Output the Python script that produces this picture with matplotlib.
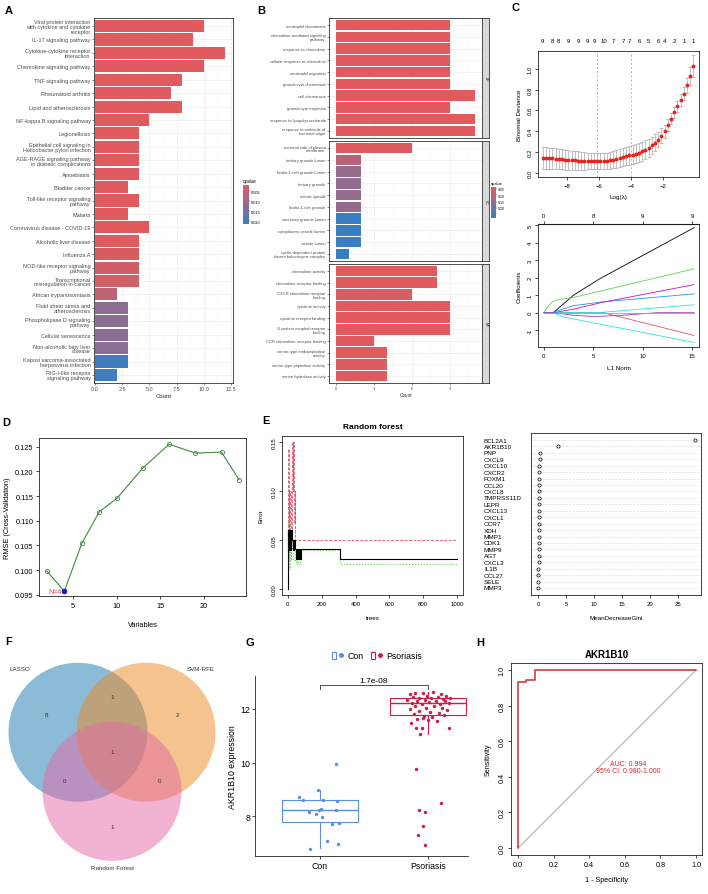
import numpy as np
import matplotlib.pyplot as plt
import matplotlib.transforms as mtrans
from matplotlib.colors import LinearSegmentedColormap, Normalize
from matplotlib.cm import ScalarMappable
from matplotlib.patches import Circle, Rectangle
from matplotlib.lines import Line2D
from matplotlib.legend_handler import HandlerTuple

plt.rcParams['font.family'] = ['Liberation Sans', 'DejaVu Sans']

# ---------------- A: KEGG enrichment ----------------
kegg_terms = ['Viral protein interaction\nwith cytokine and cytokine\nreceptor', 'IL-17 signaling pathway',
              'Cytokine-cytokine receptor\ninteraction', 'Chemokine signaling pathway', 'TNF signaling pathway',
              'Rheumatoid arthritis', 'Lipid and atherosclerosis', 'NF-kappa B signaling pathway',
              'Legionellosis', 'Epithelial cell signaling in\nHelicobacter pylori infection',
              'AGE-RAGE signaling pathway\nin diabetic complications', 'Amoebiasis', 'Bladder cancer',
              'Toll-like receptor signaling\npathway', 'Malaria', 'Coronavirus disease - COVID-19',
              'Alcoholic liver disease', 'Influenza A', 'NOD-like receptor signaling\npathway',
              'Transcriptional\nmisregulation in cancer', 'African trypanosomiasis',
              'Fluid shear stress and\natherosclerosis', 'Phospholipase D signaling\npathway',
              'Cellular senescence', 'Non-alcoholic fatty liver\ndisease',
              'Kaposi sarcoma-associated\nherpesvirus infection', 'RIG-I-like receptor\nsignaling pathway']
kegg_count = [10, 9, 12, 10, 8, 7, 8, 5, 4, 4, 4, 4, 3, 4, 3, 5, 4, 4, 4, 4, 2, 3, 3, 3, 3, 3, 2]
kegg_q = [0.002] * 16 + [0.0025, 0.003, 0.004, 0.004, 0.006, 0.012, 0.012, 0.012, 0.012, 0.021, 0.021]

# ---------------- B: GO enrichment ----------------
go_bp = ['neutrophil chemotaxis', 'chemokine-mediated signaling\npathway', 'response to chemokine',
         'cellular response to chemokine', 'neutrophil migration', 'granulocyte chemotaxis', 'cell chemotaxis',
         'granulocyte migration', 'response to lipopolysaccharide', 'response to molecule of\nbacterial origin']
go_bp_count = [9, 9, 9, 9, 9, 9, 11, 9, 11, 11]
go_bp_q = [0.035] * 10
go_cc = ['external side of plasma\nmembrane', 'tertiary granule lumen', 'ficolin-1-rich granule lumen',
         'tertiary granule', 'mitotic spindle', 'ficolin-1-rich granule', 'secretory granule lumen',
         'cytoplasmic vesicle lumen', 'vesicle lumen', 'cyclin-dependent protein\nkinase holoenzyme complex']
go_cc_count = [6, 2, 2, 2, 2, 2, 2, 2, 2, 1]
go_cc_q = [0.04, 0.10, 0.15, 0.15, 0.15, 0.15, 0.28, 0.28, 0.28, 0.28]
go_mf = ['chemokine activity', 'chemokine receptor binding', 'CXCR chemokine receptor\nbinding',
         'cytokine activity', 'cytokine receptor binding', 'G protein-coupled receptor\nbinding',
         'CCR chemokine receptor binding', 'serine-type endopeptidase\nactivity', 'serine-type peptidase activity',
         'serine hydrolase activity']
go_mf_count = [8, 8, 6, 9, 9, 9, 3, 4, 4, 4]
go_mf_q = [0.035, 0.035, 0.05, 0.035, 0.035, 0.035, 0.04, 0.04, 0.04, 0.04]
go_ont = ['BP', 'CC', 'MF']

# ---------------- C: LASSO ----------------
log_lambda = [-9.5, -9.3, -9.1, -8.9, -8.7, -8.5, -8.3, -8.1, -7.9, -7.7, -7.5, -7.3, -7.1, -6.9, -6.7, -6.5,
              -6.3, -6.1, -5.9, -5.7, -5.5, -5.3, -5.1, -4.9, -4.7, -4.5, -4.3, -4.1, -3.9, -3.7, -3.5, -3.3,
              -3.1, -2.9, -2.7, -2.5, -2.3, -2.1, -1.9, -1.7, -1.5, -1.3, -1.1, -0.9, -0.7, -0.5, -0.3, -0.1]
cv_dev = [0.140, 0.140, 0.139, 0.138, 0.136, 0.133, 0.130, 0.127, 0.124, 0.122, 0.120, 0.118, 0.116, 0.115,
          0.114, 0.113, 0.112, 0.112, 0.112, 0.113, 0.115, 0.119, 0.125, 0.133, 0.142, 0.152, 0.160, 0.167,
          0.174, 0.183, 0.194, 0.207, 0.223, 0.242, 0.264, 0.290, 0.320, 0.356, 0.400, 0.455, 0.520, 0.580,
          0.640, 0.700, 0.760, 0.840, 0.930, 1.030]
cv_sd = [0.105, 0.105, 0.104, 0.103, 0.101, 0.099, 0.097, 0.095, 0.093, 0.091, 0.089, 0.087, 0.085, 0.083,
         0.081, 0.079, 0.077, 0.076, 0.075, 0.075, 0.076, 0.078, 0.080, 0.082, 0.084, 0.086, 0.088, 0.089,
         0.090, 0.090, 0.090, 0.089, 0.088, 0.086, 0.083, 0.080, 0.076, 0.070, 0.064, 0.058, 0.052, 0.050,
         0.052, 0.056, 0.062, 0.072, 0.085, 0.105]
lambda_min, lambda_1se = -6.1, -4.0
nz_pos = [-9.5, -8.9, -8.5, -7.9, -7.3, -6.7, -6.3, -5.7, -5.1, -4.5, -4.1, -3.5, -2.9, -2.3, -1.9, -1.3, -0.7, -0.1]
nz_lab = ['9', '8', '8', '9', '9', '9', '9', '10', '7', '7', '7', '6', '5', '6', '4', '2', '1', '1']

path_l1 = [[0, 0.95, 3.0, 5.7, 15.2],
           [0, 6.0, 15.2],
           [0, 0.4, 0.8, 1.5, 3.0, 15.2],
           [0, 0.8, 3.0, 6.0, 15.2],
           [0, 0.9, 2.0, 15.2],
           [0, 1.0, 3.0, 6.0, 15.2],
           [0, 5.5, 15.2],
           [0, 1.0, 3.0, 5.0, 8.0, 11.5, 15.2],
           [0, 15.2]]
path_coef = [[0, 0, 1.0, 1.95, 4.85],
             [0, 0, -1.3],
             [0, 0.35, 0.6, 0.75, 0.87, 2.5],
             [0, 0, 0.4, 0.62, 1.07],
             [0, 0, -0.25, -1.7],
             [0, 0, 0.2, 0.6, 1.6],
             [0, 0, 0.45],
             [0, 0, -0.15, -0.22, -0.15, 0, 0],
             [0, 0]]
path_col = ['#000000', '#DF536B', '#61D04F', '#2297E6', '#28E2E5', '#CD0BBC', '#28E2E5', '#9B3FA8', '#61D04F']
l1_top_pos = [0, 5, 10, 15]
l1_top_lab = ['0', '8', '9', '9']

# ---------------- D: SVM-RFE ----------------
n_vars = [2, 4, 6, 8, 10, 13, 16, 19, 22, 24]
rmse = [0.0998, 0.0957, 0.1054, 0.1118, 0.1145, 0.1207, 0.1255, 0.1237, 0.1239, 0.1183]
best_n = 4

# ---------------- E: random forest ----------------
oob_trees = [1, 2, 3, 5, 7, 9, 12, 15, 18, 21, 25, 30, 35, 40, 45, 55, 60, 65, 70, 75, 305, 1000]
oob_err = [0.0, 0.06, 0.04, 0.06, 0.05, 0.06, 0.04, 0.05, 0.04, 0.06, 0.05, 0.04, 0.05, 0.041, 0.031, 0.041,
           0.031, 0.041, 0.031, 0.041, 0.031, 0.031]
con_trees = [1, 2, 3, 4, 5, 6, 8, 12, 16, 20, 24, 26, 28, 30, 34, 38, 40, 44, 1000]
con_err = [0.0, 0.05, 0.143, 0.05, 0.10, 0.10, 0.05, 0.10, 0.05, 0.05, 0.10, 0.15, 0.10, 0.15, 0.10, 0.067,
           0.10, 0.05, 0.05]
pso_trees = [1, 2, 4, 6, 9, 12, 16, 20, 25, 30, 40, 45, 55, 60, 70, 75, 305, 1000]
pso_err = [0.0, 0.07, 0.03, 0.05, 0.02, 0.04, 0.03, 0.06, 0.04, 0.03, 0.0395, 0.026, 0.0395, 0.026, 0.0395,
           0.0395, 0.026, 0.026]
gini_genes = ['BCL2A1', 'AKR1B10', 'PNP', 'CXCL9', 'CXCL10', 'CXCR2', 'FOXM1', 'CCL20', 'CXCL8', 'TMPRSS11D',
              'LEPR', 'CXCL13', 'CXCL1', 'CCR7', 'XDH', 'MMP1', 'CDK1', 'MMP9', 'AGT', 'CXCL3', 'IL1B', 'CCL27',
              'SELE', 'MMP3']
gini = [28.1, 3.6, 0.30, 0.28, 0.26, 0.24, 0.22, 0.21, 0.20, 0.19, 0.18, 0.17, 0.16, 0.15, 0.14, 0.13, 0.12,
        0.11, 0.10, 0.09, 0.08, 0.07, 0.06, 0.05]

# ---------------- F: Venn ----------------
venn_sets = ['LASSO', 'SVM-RFE', 'Random Forest']
venn_counts = {'100': 8, '010': 2, '001': 1, '110': 1, '101': 0, '011': 0, '111': 1}

# ---------------- G: expression ----------------
groups = ['Con', 'Psoriasis']
con_x = [1.15, 0.98, 0.81, 0.84, 1.03, 1.16, 1.01, 0.99, 0.90, 1.15, 0.96, 1.02, 1.11, 1.18, 1.07, 1.17, 0.91]
con_y = [9.94, 8.96, 8.73, 8.59, 8.60, 8.56, 8.26, 8.22, 8.16, 8.22, 8.10, 7.97, 7.70, 7.75, 7.09, 6.98, 6.78]
pso_x = [1.83, 1.88, 1.95, 2.05, 2.12, 2.17, 1.86, 1.92, 1.99, 2.03, 2.09, 2.14, 2.20, 1.81, 1.90, 1.97, 2.07,
         2.16, 1.85, 1.94, 2.01, 2.11, 2.19, 1.88, 1.98, 2.06, 2.13, 1.83, 1.92, 2.02, 2.10, 2.18, 1.87, 1.96,
         2.04, 2.15, 1.90, 2.00, 2.08, 1.95, 1.84, 1.89, 1.94, 1.93, 2.19, 1.89, 2.12, 1.92, 1.97, 1.95, 1.91,
         1.97]
pso_y = [12.55, 12.60, 12.58, 12.62, 12.57, 12.50, 12.45, 12.42, 12.48, 12.40, 12.45, 12.38, 12.42, 12.35,
         12.30, 12.33, 12.28, 12.31, 12.22, 12.20, 12.25, 12.18, 12.24, 12.10, 12.05, 12.12, 12.02, 12.00,
         11.93, 11.90, 11.85, 11.95, 11.80, 11.75, 11.70, 11.78, 11.62, 11.60, 11.55, 11.65, 11.46, 11.30,
         11.30, 11.06, 11.28, 9.75, 8.50, 8.24, 8.15, 7.64, 7.28, 6.92]
box_med = [8.22, 12.22]
box_q1 = [7.78, 11.78]
box_q3 = [8.60, 12.40]
box_lo = [6.80, 11.06]
box_hi = [8.97, 12.63]
p_label = '1.7e-08'

# ---------------- H: ROC ----------------
roc_fpr = [0.0, 0.0, 0.047, 0.047, 0.097, 0.097, 1.0]
roc_tpr = [0.0, 0.933, 0.933, 0.944, 0.944, 1.0, 1.0]
auc_txt = 'AUC: 0.994\n95% CI: 0.980-1.000'

# ================= figure =================
W, H = 708, 895
fig = plt.figure(figsize=(W / 100, H / 100), dpi=100)


def box(l, t, r, b):
    # axes from pixel box (left, top, right, bottom)
    return fig.add_axes([l / W, 1 - b / H, (r - l) / W, (b - t) / H])


def letter(x, y, s):
    fig.text(x / W, 1 - y / H, s, fontsize=8, fontweight='bold', ha='center', va='center')


def gg_style(ax, fs):
    for s in ax.spines.values():
        s.set_color('#333333')
        s.set_linewidth(0.6)
    ax.tick_params(which='major', length=1.5, width=0.4, color='#333333', labelcolor='#4D4D4D',
                   labelsize=fs, pad=1)
    ax.tick_params(which='minor', length=0)
    ax.grid(True, which='major', color='#EBEBEB', lw=0.5)
    ax.grid(True, which='minor', axis='x', color='#F4F4F4', lw=0.3)
    ax.set_axisbelow(True)


def r_style(ax, fs):
    for s in ax.spines.values():
        s.set_color('#222222')
        s.set_linewidth(0.6)
    ax.tick_params(direction='out', length=2.5, width=0.5, labelsize=fs, pad=1.5)


cmap_q = LinearSegmentedColormap.from_list('q', ['#E15B5E', '#3A7EC2'])

# ---- A ----
norm_a = Normalize(0.002, 0.0215)
ax = box(94, 19, 233, 384)
ya = np.arange(len(kegg_terms))
ax.barh(ya, kegg_count, height=0.9, color=cmap_q(norm_a(np.array(kegg_q))))
ax.set_ylim(len(kegg_terms) - 0.4, -0.6)
ax.set_xlim(-0.1, 12.7)
ax.set_yticks(ya)
ax.set_yticklabels(kegg_terms, fontsize=4, linespacing=0.95)
ax.set_xticks([0, 2.5, 5, 7.5, 10, 12.5])
ax.set_xticklabels(['0.0', '2.5', '5.0', '7.5', '10.0', '12.5'])
ax.set_xticks([1.25, 3.75, 6.25, 8.75, 11.25], minor=True)
gg_style(ax, 4)
ax.set_xlabel('Count', fontsize=4.3, labelpad=1, color='#222222')
cax = box(243, 186, 249, 225)
cb = fig.colorbar(ScalarMappable(norm_a, cmap_q), cax=cax)
cax.invert_yaxis()
cb.set_ticks([0.005, 0.010, 0.015, 0.020])
cb.ax.tick_params(labelsize=2.8, length=1, width=0.3, pad=0.5)
cb.outline.set_visible(False)
cax.set_title('qvalue', fontsize=3.3, loc='left', pad=2)
letter(9, 11, 'A')

# ---- B ----
norm_b = Normalize(0.035, 0.28)
facets = [(go_bp, go_bp_count, go_bp_q, 19, 139), (go_cc, go_cc_count, go_cc_q, 142, 262),
          (go_mf, go_mf_count, go_mf_q, 265, 384)]
for k, (terms, cnt, qv, t, b) in enumerate(facets):
    ax = box(329, t, 482, b)
    yb = np.arange(len(terms))
    ax.barh(yb, cnt, height=0.9, color=cmap_q(norm_b(np.array(qv))))
    ax.set_ylim(len(terms) - 0.4, -0.6)
    ax.set_xlim(-0.55, 11.55)
    ax.set_yticks(yb)
    ax.set_yticklabels(terms, fontsize=3, linespacing=0.95)
    ax.set_xticks([0, 3, 6, 9])
    ax.set_xticks([1.5, 4.5, 7.5, 10.5], minor=True)
    gg_style(ax, 3)
    if k < 2:
        ax.tick_params(axis='x', which='both', length=0, labelbottom=False)
    else:
        ax.set_xlabel('Count', fontsize=3.3, labelpad=1, color='#222222')
    sx = box(482, t, 489, b)
    sx.set_facecolor('#D9D9D9')
    sx.set_xticks([])
    sx.set_yticks([])
    for s in sx.spines.values():
        s.set_color('#333333')
        s.set_linewidth(0.6)
    sx.text(0.5, 0.5, go_ont[k], rotation=-90, fontsize=2.5, ha='center', va='center', color='#1A1A1A')
cax = box(491, 188, 496, 219)
cb = fig.colorbar(ScalarMappable(norm_b, cmap_q), cax=cax)
cax.invert_yaxis()
cb.set_ticks([0.05, 0.10, 0.15, 0.20])
cb.ax.tick_params(labelsize=2.5, length=1, width=0.3, pad=0.5)
cb.outline.set_visible(False)
cax.set_title('qvalue', fontsize=3, loc='left', pad=2)
letter(261, 11, 'B')

# ---- C top: cv curve ----
ax = box(538, 52, 699, 178)
ax.errorbar(log_lambda, cv_dev, yerr=cv_sd, fmt='o', ms=1.8, mfc='#E8241C', mec='#E8241C',
            ecolor='#A8A8A8', elinewidth=0.5, capsize=1.2, capthick=0.5)
ax.axvline(lambda_min, ls=(0, (3, 3)), color='#999999', lw=0.5)
ax.axvline(lambda_1se, ls=(0, (3, 3)), color='#999999', lw=0.5)
ax.set_xlim(-9.8, 0.25)
ax.set_ylim(-0.04, 1.17)
ax.set_xticks([-8, -6, -4, -2])
ax.set_yticks([0, 0.2, 0.4, 0.6, 0.8, 1.0])
ax.set_yticklabels(['0.0', '0.2', '0.4', '0.6', '0.8', '1.0'], rotation=90, va='center')
r_style(ax, 4.3)
ax.set_xlabel('Log(λ)', fontsize=4.5, labelpad=5)
ax.set_ylabel('Binomial Deviance', fontsize=4.5, labelpad=4)
tr = mtrans.blended_transform_factory(ax.transData, ax.transAxes)
for xv, s in zip(nz_pos, nz_lab):
    ax.text(xv, 1.08, s, transform=tr, ha='center', va='center', fontsize=4.3)
letter(516, 8, 'C')

# ---- C bottom: coefficient paths ----
ax = box(538, 225, 699, 348)
for xs, ys, c in zip(path_l1, path_coef, path_col):
    ax.plot(xs, ys, color=c, lw=0.6)
ax.set_xlim(-0.6, 15.7)
ax.set_ylim(-1.96, 5.06)
ax.set_xticks([0, 5, 10, 15])
ax.set_yticks([-1, 0, 1, 2, 3, 4, 5])
ax.set_yticklabels(['-1', '0', '1', '2', '3', '4', '5'], rotation=90, va='center')
r_style(ax, 4.3)
top = ax.secondary_xaxis('top')
top.set_xticks(l1_top_pos)
top.set_xticklabels(l1_top_lab)
top.tick_params(direction='out', length=2.5, width=0.5, labelsize=4.3, pad=1.5)
ax.set_xlabel('L1 Norm', fontsize=4.5, labelpad=5)
ax.set_ylabel('Coefficients', fontsize=4.5, labelpad=4)

# ---- D ----
ax = box(39, 439, 246, 597)
ax.plot(n_vars, rmse, '-o', color='#3F8A3F', mfc='none', ms=3, mew=0.6, lw=0.8)
bi = n_vars.index(best_n)
ax.plot(best_n, rmse[bi], 'o', color='#1A1AD0', ms=3)
ax.text(best_n - 0.3, rmse[bi], 'N=' + str(best_n), color='#D2455F', ha='right', va='center', fontsize=5)
ax.set_xlim(1.1, 24.8)
ax.set_ylim(0.09474, 0.12676)
ax.set_xticks([5, 10, 15, 20])
ax.set_yticks([0.095, 0.100, 0.105, 0.110, 0.115, 0.120, 0.125])
ax.set_yticklabels(['%.3f' % v for v in [0.095, 0.100, 0.105, 0.110, 0.115, 0.120, 0.125]])
r_style(ax, 5.3)
ax.set_xlabel('Variables', fontsize=5.3, labelpad=9)
ax.set_ylabel('RMSE (Cross-Validation)', fontsize=5.3, labelpad=3)
letter(6, 423, 'D')

# ---- E left: error vs trees ----
ax = box(282, 437, 463, 596)
ax.step(con_trees, con_err, where='post', color='#DF536B', ls='--', lw=0.6)
ax.step(pso_trees, pso_err, where='post', color='#61D04F', ls=':', lw=0.8)
ax.step(oob_trees, oob_err, where='post', color='black', lw=0.8)
ax.set_xlim(-35, 1035)
ax.set_ylim(-0.006, 0.156)
ax.set_xticks([0, 200, 400, 600, 800, 1000])
ax.set_yticks([0, 0.05, 0.10, 0.15])
ax.set_yticklabels(['0.00', '0.05', '0.10', '0.15'], rotation=90, va='center')
r_style(ax, 4.3)
ax.set_xlabel('trees', fontsize=4.5, labelpad=7)
ax.set_ylabel('Error', fontsize=4.5, labelpad=6)
ax.set_title('Random forest', fontsize=6, fontweight='bold', pad=6)
letter(266, 421, 'E')

# ---- E right: MeanDecreaseGini ----
ax = box(531, 434, 701, 596)
yg = np.arange(len(gini_genes))
for yv in yg:
    ax.axhline(yv, color='#BBBBBB', ls=(0, (1, 1.5)), lw=0.4)
ax.plot(gini, yg, 'o', mfc='none', mec='black', ms=2.3, mew=0.5)
ax.set_ylim(len(gini_genes) + 0.09, -1.09)
ax.set_xlim(-1.25, 29.1)
ax.set_xticks([0, 5, 10, 15, 20, 25])
ax.set_yticks([])
r_style(ax, 4.3)
ax.set_xlabel('MeanDecreaseGini', fontsize=4.5, labelpad=7)
trg = mtrans.blended_transform_factory(fig.transFigure, ax.transData)
for yv, g in zip(yg, gini_genes):
    ax.text(484 / W, yv, g, transform=trg, ha='left', va='center', fontsize=4.6)

# ---- F: Venn ----
ax = box(0, 650, 225, 880)
ax.set_xlim(-1.612, 1.626)
ax.set_ylim(-1.832, 1.478)
ax.axis('off')
centers = [(-0.49, 0.28), (0.49, 0.28), (0.0, -0.57)]
venn_col = ['#1B79B3', '#ED891D', '#E569A5']
for (cx, cy), c in zip(centers, venn_col):
    ax.add_patch(Circle((cx, cy), 1.0, fc=c, ec='none', alpha=0.5))
ax.text(-1.32, 1.20, venn_sets[0], fontsize=4.5, ha='center', va='center', color='#333333')
ax.text(1.27, 1.20, venn_sets[1], fontsize=4.5, ha='center', va='center', color='#333333')
ax.text(0.0, -1.66, venn_sets[2], fontsize=4.5, ha='center', va='center', color='#333333')
region_pos = {'100': (-0.94, 0.53), '010': (0.94, 0.53), '001': (0.0, -1.08), '110': (0.0, 0.79),
              '101': (-0.69, -0.41), '011': (0.69, -0.41), '111': (0.0, 0.0)}
for key, (px, py) in region_pos.items():
    ax.text(px, py, str(venn_counts[key]), fontsize=4.5, ha='center', va='center', color='#333333')
letter(9, 642, 'F')

# ---- G: boxplot ----
c_con, c_pso = '#5A8DE6', '#D41A46'
ax = box(255, 677, 468, 857)
stats = [dict(med=box_med[i], q1=box_q1[i], q3=box_q3[i], whislo=box_lo[i], whishi=box_hi[i], fliers=[])
         for i in range(2)]
for i, c in enumerate([c_con, c_pso]):
    ax.bxp([stats[i]], positions=[i + 1], widths=0.7, showcaps=False, patch_artist=True,
           boxprops=dict(facecolor='white', edgecolor=c, lw=0.8),
           medianprops=dict(color=c, lw=1.0), whiskerprops=dict(color=c, lw=0.8))
ax.scatter(con_x, con_y, s=6, color=c_con, zorder=3, linewidths=0)
ax.scatter(pso_x, pso_y, s=6, color=c_pso, zorder=3, linewidths=0)
ax.plot([1, 1, 2, 2], [12.75, 12.9, 12.9, 12.75], color='#333333', lw=0.6)
ax.text(1.5, 12.93, p_label, ha='center', va='bottom', fontsize=6)
ax.set_xlim(0.4, 2.37)
ax.set_ylim(6.515, 13.23)
ax.set_xticks([1, 2])
ax.set_xticklabels(groups)
ax.set_yticks([8, 10, 12])
for s in ['top', 'right']:
    ax.spines[s].set_visible(False)
for s in ['left', 'bottom']:
    ax.spines[s].set_linewidth(0.6)
    ax.spines[s].set_color('#222222')
ax.tick_params(length=2, width=0.5, labelsize=6.3, pad=1.5)
ax.set_ylabel('AKR1B10 expression', fontsize=6.3, labelpad=2)
h_con = (Rectangle((0, 0), 1, 1, fc='white', ec=c_con, lw=0.8),
         Line2D([], [], marker='o', color=c_con, ls='-', ms=2.5, lw=0.8))
h_pso = (Rectangle((0, 0), 1, 1, fc='white', ec=c_pso, lw=0.8),
         Line2D([], [], marker='o', color=c_pso, ls='-', ms=2.5, lw=0.8))
fig.legend([h_con, h_pso], groups, handler_map={tuple: HandlerTuple(ndivide=None)}, loc='center',
           bbox_to_anchor=(377 / W, 1 - 657 / H), ncol=2, frameon=False, fontsize=6.3, handlelength=1.3,
           handleheight=1.0, columnspacing=0.8, handletextpad=0.5)
letter(250, 643, 'G')

# ---- H: ROC ----
ax = box(511, 664, 702, 856)
ax.plot([0, 1], [0, 1], color='#A8A8A8', lw=0.7)
ax.plot(roc_fpr, roc_tpr, color='#D6282C', lw=1.1)
ax.text(0.62, 0.455, auc_txt, color='#D6282C', ha='center', va='center', fontsize=5, linespacing=1.0)
ax.set_xlim(-0.04, 1.034)
ax.set_ylim(-0.04, 1.04)
ax.set_xticks([0, 0.2, 0.4, 0.6, 0.8, 1.0])
ax.set_xticklabels(['0.0', '0.2', '0.4', '0.6', '0.8', '1.0'])
ax.set_yticks([0, 0.2, 0.4, 0.6, 0.8, 1.0])
ax.set_yticklabels(['0.0', '0.2', '0.4', '0.6', '0.8', '1.0'], rotation=90, va='center')
r_style(ax, 5.2)
ax.set_xlabel('1 - Specificity', fontsize=5.2, labelpad=6)
ax.set_ylabel('Sensitivity', fontsize=5.2, labelpad=5)
ax.set_title('AKR1B10', fontsize=7, fontweight='bold', pad=4)
letter(480, 643, 'H')

fig.savefig('out.png', dpi=100)
